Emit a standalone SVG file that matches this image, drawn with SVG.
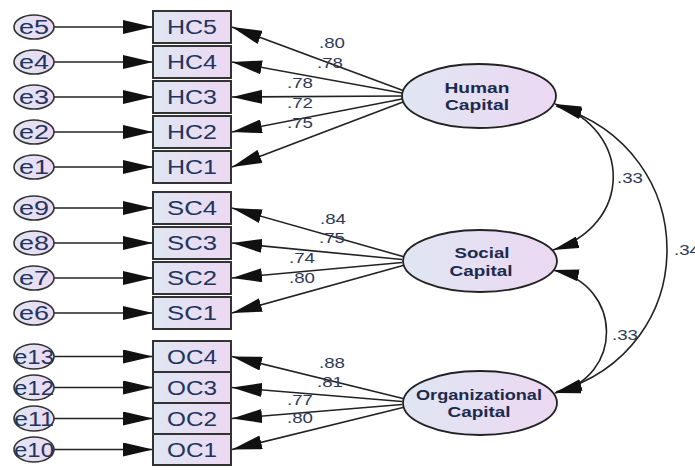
<svg xmlns="http://www.w3.org/2000/svg" width="695" height="470" viewBox="0 0 695 470">
<defs>
<linearGradient id="fillg" x1="0" y1="0" x2="1" y2="0">
<stop offset="0" stop-color="#e0e6f2"/>
<stop offset="1" stop-color="#ecd8f2"/>
</linearGradient>
<marker id="ah" markerUnits="userSpaceOnUse" markerWidth="30" markerHeight="14" viewBox="0 0 30 14" refX="30" refY="7" orient="auto">
<path d="M0,0 L30,7 L0,14 z" fill="#111"/>
</marker>
<marker id="ch" markerUnits="userSpaceOnUse" markerWidth="26" markerHeight="12" viewBox="0 0 26 12" refX="26" refY="6" orient="auto-start-reverse">
<path d="M0,0 L26,6 L0,12 z" fill="#111"/>
</marker>
<style>
.box{fill:url(#fillg);stroke:#333;stroke-width:2}
.err{fill:url(#fillg);stroke:#333;stroke-width:1.6}
.lat{fill:url(#fillg);stroke:#222;stroke-width:1.8}
.bt{font-family:"Liberation Sans",Arial,sans-serif;font-size:20px;fill:#22345c;text-anchor:middle}
.lt{font-family:"Liberation Sans",Arial,sans-serif;font-size:15px;font-weight:bold;fill:#1c2a4e;text-anchor:middle}
.nt{font-family:"Liberation Sans",Arial,sans-serif;font-size:15px;fill:#2e3a58;text-anchor:middle}
.ln{fill:none;stroke:#222;stroke-width:1.6;marker-end:url(#ah)}
.cv{fill:none;stroke:#222;stroke-width:1.6;marker-start:url(#ch);marker-end:url(#ch)}
</style>
</defs>

<g id="connectors">
<!-- error arrows -->
<path class="ln" d="M54,27 L153,27"/>
<path class="ln" d="M54,62 L153,62"/>
<path class="ln" d="M54,97 L153,97"/>
<path class="ln" d="M54,132 L153,132"/>
<path class="ln" d="M54,167 L153,167"/>
<path class="ln" d="M54,208 L153,208"/>
<path class="ln" d="M54,243 L153,243"/>
<path class="ln" d="M54,278 L153,278"/>
<path class="ln" d="M54,313 L153,313"/>
<path class="ln" d="M54,356.5 L153,356.5"/>
<path class="ln" d="M54,387.5 L153,387.5"/>
<path class="ln" d="M54,418.5 L153,418.5"/>
<path class="ln" d="M54,449.5 L153,449.5"/>
<!-- loadings Human -->
<path class="ln" d="M403,90.5 L232,27"/>
<path class="ln" d="M402,93 L232,62"/>
<path class="ln" d="M402,96 L232,97"/>
<path class="ln" d="M402,99 L232,132"/>
<path class="ln" d="M403,102 L232,167"/>
<!-- loadings Social -->
<path class="ln" d="M403,256.5 L232,208"/>
<path class="ln" d="M402,259.5 L232,243"/>
<path class="ln" d="M402,262.5 L232,278"/>
<path class="ln" d="M403,265.5 L232,313"/>
<!-- loadings Org -->
<path class="ln" d="M403,398.5 L232,356.5"/>
<path class="ln" d="M402,401.5 L232,387.5"/>
<path class="ln" d="M402,404.5 L232,418.5"/>
<path class="ln" d="M403,407.5 L232,449.5"/>
<!-- covariances -->
<path class="cv" d="M555,104 C633,130 633,225 553,250"/>
<path class="cv" d="M553,270 C624,285 624,378 555,393"/>
<path class="cv" d="M556,106 C704,150 704,350 556,392"/>
</g>

<g id="labels">
<text class="nt" x="332" y="48" textLength="26" lengthAdjust="spacingAndGlyphs">.80</text>
<text class="nt" x="330" y="68" textLength="26" lengthAdjust="spacingAndGlyphs">.78</text>
<text class="nt" x="300" y="88" textLength="26" lengthAdjust="spacingAndGlyphs">.78</text>
<text class="nt" x="300" y="108" textLength="26" lengthAdjust="spacingAndGlyphs">.72</text>
<text class="nt" x="300" y="128" textLength="26" lengthAdjust="spacingAndGlyphs">.75</text>
<text class="nt" x="333" y="224" textLength="26" lengthAdjust="spacingAndGlyphs">.84</text>
<text class="nt" x="332" y="243" textLength="26" lengthAdjust="spacingAndGlyphs">.75</text>
<text class="nt" x="302" y="263" textLength="26" lengthAdjust="spacingAndGlyphs">.74</text>
<text class="nt" x="302" y="283" textLength="26" lengthAdjust="spacingAndGlyphs">.80</text>
<text class="nt" x="332" y="368" textLength="26" lengthAdjust="spacingAndGlyphs">.88</text>
<text class="nt" x="330" y="387" textLength="26" lengthAdjust="spacingAndGlyphs">.81</text>
<text class="nt" x="300" y="405" textLength="26" lengthAdjust="spacingAndGlyphs">.77</text>
<text class="nt" x="300" y="423" textLength="26" lengthAdjust="spacingAndGlyphs">.80</text>
<text class="nt" x="630" y="183" textLength="26" lengthAdjust="spacingAndGlyphs">.33</text>
<text class="nt" x="625" y="340" textLength="26" lengthAdjust="spacingAndGlyphs">.33</text>
<text class="nt" x="687" y="255" textLength="26" lengthAdjust="spacingAndGlyphs">.34</text>
</g>

<g id="e5"><ellipse class="err" cx="34" cy="27" rx="20" ry="12"/><text class="bt" x="34" y="34" textLength="30" lengthAdjust="spacingAndGlyphs">e5</text></g>
<g id="e4"><ellipse class="err" cx="34" cy="62" rx="20" ry="12"/><text class="bt" x="34" y="69" textLength="30" lengthAdjust="spacingAndGlyphs">e4</text></g>
<g id="e3"><ellipse class="err" cx="34" cy="97" rx="20" ry="12"/><text class="bt" x="34" y="104" textLength="30" lengthAdjust="spacingAndGlyphs">e3</text></g>
<g id="e2"><ellipse class="err" cx="34" cy="132" rx="20" ry="12"/><text class="bt" x="34" y="139" textLength="30" lengthAdjust="spacingAndGlyphs">e2</text></g>
<g id="e1"><ellipse class="err" cx="34" cy="167" rx="20" ry="12"/><text class="bt" x="34" y="174" textLength="30" lengthAdjust="spacingAndGlyphs">e1</text></g>
<g id="e9"><ellipse class="err" cx="34" cy="208" rx="20" ry="12"/><text class="bt" x="34" y="215" textLength="30" lengthAdjust="spacingAndGlyphs">e9</text></g>
<g id="e8"><ellipse class="err" cx="34" cy="243" rx="20" ry="12"/><text class="bt" x="34" y="250" textLength="30" lengthAdjust="spacingAndGlyphs">e8</text></g>
<g id="e7"><ellipse class="err" cx="34" cy="278" rx="20" ry="12"/><text class="bt" x="34" y="285" textLength="30" lengthAdjust="spacingAndGlyphs">e7</text></g>
<g id="e6"><ellipse class="err" cx="34" cy="313" rx="20" ry="12"/><text class="bt" x="34" y="320" textLength="30" lengthAdjust="spacingAndGlyphs">e6</text></g>
<g id="e13"><ellipse class="err" cx="34" cy="356.5" rx="20" ry="12.5"/><text class="bt" x="34" y="363.5" textLength="40" lengthAdjust="spacingAndGlyphs">e13</text></g>
<g id="e12"><ellipse class="err" cx="34" cy="387.5" rx="20" ry="12.5"/><text class="bt" x="34" y="394.5" textLength="40" lengthAdjust="spacingAndGlyphs">e12</text></g>
<g id="e11"><ellipse class="err" cx="34" cy="418.5" rx="20" ry="12.5"/><text class="bt" x="34" y="425.5" textLength="40" lengthAdjust="spacingAndGlyphs">e11</text></g>
<g id="e10"><ellipse class="err" cx="34" cy="449.5" rx="20" ry="12.5"/><text class="bt" x="34" y="456.5" textLength="40" lengthAdjust="spacingAndGlyphs">e10</text></g>

<g id="HC5"><rect class="box" x="153" y="11" width="78" height="32"/><text class="bt" x="192" y="34" textLength="50" lengthAdjust="spacingAndGlyphs">HC5</text></g>
<g id="HC4"><rect class="box" x="153" y="46" width="78" height="32"/><text class="bt" x="192" y="69" textLength="50" lengthAdjust="spacingAndGlyphs">HC4</text></g>
<g id="HC3"><rect class="box" x="153" y="81" width="78" height="32"/><text class="bt" x="192" y="104" textLength="50" lengthAdjust="spacingAndGlyphs">HC3</text></g>
<g id="HC2"><rect class="box" x="153" y="116" width="78" height="32"/><text class="bt" x="192" y="139" textLength="50" lengthAdjust="spacingAndGlyphs">HC2</text></g>
<g id="HC1"><rect class="box" x="153" y="151" width="78" height="32"/><text class="bt" x="192" y="174" textLength="50" lengthAdjust="spacingAndGlyphs">HC1</text></g>
<g id="SC4"><rect class="box" x="153" y="192" width="78" height="32"/><text class="bt" x="192" y="215" textLength="50" lengthAdjust="spacingAndGlyphs">SC4</text></g>
<g id="SC3"><rect class="box" x="153" y="227" width="78" height="32"/><text class="bt" x="192" y="250" textLength="50" lengthAdjust="spacingAndGlyphs">SC3</text></g>
<g id="SC2"><rect class="box" x="153" y="262" width="78" height="32"/><text class="bt" x="192" y="285" textLength="50" lengthAdjust="spacingAndGlyphs">SC2</text></g>
<g id="SC1"><rect class="box" x="153" y="297" width="78" height="32"/><text class="bt" x="192" y="320" textLength="50" lengthAdjust="spacingAndGlyphs">SC1</text></g>
<g id="OC4"><rect class="box" x="153" y="341" width="78" height="31"/><text class="bt" x="192" y="363.5" textLength="50" lengthAdjust="spacingAndGlyphs">OC4</text></g>
<g id="OC3"><rect class="box" x="153" y="372" width="78" height="31"/><text class="bt" x="192" y="394.5" textLength="50" lengthAdjust="spacingAndGlyphs">OC3</text></g>
<g id="OC2"><rect class="box" x="153" y="403" width="78" height="31"/><text class="bt" x="192" y="425.5" textLength="50" lengthAdjust="spacingAndGlyphs">OC2</text></g>
<g id="OC1"><rect class="box" x="153" y="434" width="78" height="31"/><text class="bt" x="192" y="456.5" textLength="50" lengthAdjust="spacingAndGlyphs">OC1</text></g>

<g id="HumanCapital"><ellipse class="lat" cx="479" cy="96" rx="77" ry="32"/><text class="lt" x="477" y="93" textLength="65" lengthAdjust="spacingAndGlyphs">Human</text><text class="lt" x="477" y="110" textLength="64" lengthAdjust="spacingAndGlyphs">Capital</text></g>
<g id="SocialCapital"><ellipse class="lat" cx="480" cy="261" rx="77" ry="31"/><text class="lt" x="482" y="258" textLength="55" lengthAdjust="spacingAndGlyphs">Social</text><text class="lt" x="481" y="276" textLength="63" lengthAdjust="spacingAndGlyphs">Capital</text></g>
<g id="OrganizationalCapital"><ellipse class="lat" cx="480" cy="403" rx="77" ry="32"/><text class="lt" x="479" y="400" textLength="126" lengthAdjust="spacingAndGlyphs">Organizational</text><text class="lt" x="479" y="417" textLength="63" lengthAdjust="spacingAndGlyphs">Capital</text></g>
</svg>
